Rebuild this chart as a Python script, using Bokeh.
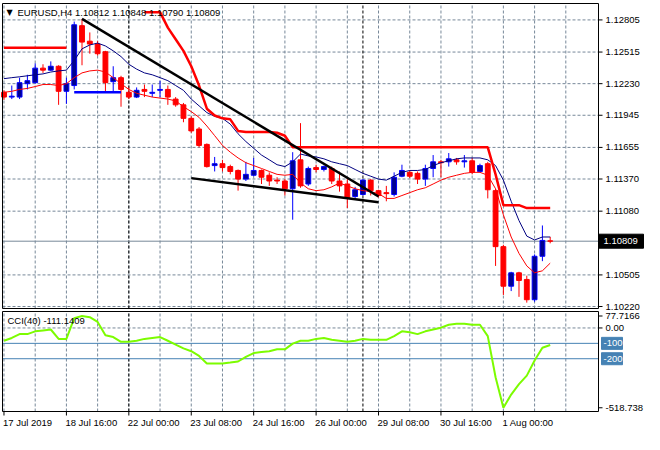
from bokeh.plotting import figure
from bokeh.models import Range1d
from bokeh.core.properties import value
from bokeh.embed import file_html
from bokeh.resources import INLINE

# ---------------- data ----------------
symbol = "EURUSD,H4"
bars = list(range(71))
opens = [1.12152, 1.12109, 1.12109, 1.12230, 1.12239, 1.12370, 1.12352, 1.12387, 1.12161, 1.12213,
         1.12753, 1.12613, 1.12587, 1.12518, 1.12248, 1.12284, 1.12152, 1.12109, 1.12178, 1.12143,
         1.12170, 1.12178, 1.12091, 1.12039, 1.11917, 1.11821, 1.11682, 1.11491, 1.11508, 1.11482,
         1.11447, 1.11369, 1.11404, 1.11447, 1.11404, 1.11360, 1.11352, 1.11282, 1.11543, 1.11325,
         1.11473, 1.11456, 1.11465, 1.11352, 1.11325, 1.11212, 1.11230, 1.11360, 1.11265, 1.11247,
         1.11230, 1.11395, 1.11430, 1.11421, 1.11369, 1.11465, 1.11525, 1.11525, 1.11543, 1.11525,
         1.11534, 1.11438, 1.11508, 1.11265, 1.10760, 1.10403, 1.10524, 1.10464, 1.10281, 1.10673,
         1.10812]
highs = [1.12170, 1.12213, 1.12284, 1.12310, 1.12413, 1.12405, 1.12431, 1.12396, 1.12284, 1.12790,
         1.12814, 1.12692, 1.12613, 1.12526, 1.12387, 1.12301, 1.12196, 1.12196, 1.12222, 1.12222,
         1.12257, 1.12213, 1.12109, 1.12056, 1.11935, 1.11839, 1.11691, 1.11569, 1.11543, 1.11499,
         1.11456, 1.11525, 1.11560, 1.11456, 1.11430, 1.11386, 1.11369, 1.11612, 1.11874, 1.11482,
         1.11499, 1.11491, 1.11482, 1.11438, 1.11369, 1.11299, 1.11369, 1.11369, 1.11273, 1.11308,
         1.11430, 1.11499, 1.11447, 1.11438, 1.11499, 1.11586, 1.11543, 1.11604, 1.11560, 1.11586,
         1.11560, 1.11508, 1.11525, 1.11282, 1.10777, 1.10533, 1.10533, 1.10498, 1.10690, 1.10951,
         1.10848]
lows = [1.12083, 1.12091, 1.12091, 1.12178, 1.12230, 1.12327, 1.12345, 1.12039, 1.12048, 1.12178,
        1.12396, 1.12500, 1.12483, 1.12152, 1.12152, 1.12022, 1.12091, 1.12100, 1.12109, 1.12109,
        1.12109, 1.12039, 1.12022, 1.11882, 1.11787, 1.11656, 1.11473, 1.11438, 1.11438, 1.11412,
        1.11265, 1.11352, 1.11395, 1.11325, 1.11308, 1.11325, 1.11221, 1.11003, 1.11291, 1.11308,
        1.11430, 1.11438, 1.11325, 1.11256, 1.11108, 1.11195, 1.11221, 1.11221, 1.11204, 1.11169,
        1.11212, 1.11386, 1.11378, 1.11325, 1.11308, 1.11386, 1.11386, 1.11482, 1.11499, 1.11473,
        1.11412, 1.11430, 1.11195, 1.10586, 1.10324, 1.10359, 1.10307, 1.10255, 1.10263, 1.10629,
        1.10790]
closes = [1.12109, 1.12117, 1.12239, 1.12257, 1.12370, 1.12352, 1.12387, 1.12161, 1.12230, 1.12761,
          1.12605, 1.12587, 1.12500, 1.12239, 1.12284, 1.12178, 1.12109, 1.12170, 1.12161, 1.12152,
          1.12178, 1.12109, 1.12039, 1.11917, 1.11804, 1.11673, 1.11482, 1.11508, 1.11473, 1.11438,
          1.11369, 1.11412, 1.11447, 1.11386, 1.11352, 1.11352, 1.11282, 1.11534, 1.11308, 1.11465,
          1.11456, 1.11482, 1.11352, 1.11308, 1.11195, 1.11273, 1.11360, 1.11265, 1.11221, 1.11238,
          1.11386, 1.11447, 1.11395, 1.11369, 1.11465, 1.11525, 1.11517, 1.11552, 1.11525, 1.11534,
          1.11430, 1.11491, 1.11273, 1.10760, 1.10403, 1.10524, 1.10455, 1.10281, 1.10673, 1.10816,
          1.10809]

ma_navy = [1.12275, 1.12284, 1.12292, 1.12301, 1.12310, 1.12318, 1.12335, 1.12345, 1.12352, 1.12439,
           1.12544, 1.12579, 1.12596, 1.12570, 1.12526, 1.12474, 1.12405, 1.12361, 1.12327, 1.12310,
           1.12284, 1.12257, 1.12213, 1.12170, 1.12091, 1.12030, 1.11969, 1.11935, 1.11917, 1.11865,
           1.11778, 1.11708, 1.11647, 1.11586, 1.11543, 1.11499, 1.11482, 1.11525, 1.11595, 1.11578,
           1.11569, 1.11552, 1.11525, 1.11508, 1.11491, 1.11456, 1.11421, 1.11395, 1.11369, 1.11360,
           1.11395, 1.11430, 1.11447, 1.11447, 1.11456, 1.11491, 1.11517, 1.11534, 1.11552, 1.11560,
           1.11560, 1.11560, 1.11543, 1.11491, 1.11360, 1.11169, 1.10995, 1.10855, 1.10820, 1.10847,
           1.10847]
ma_red = [1.12152, 1.12161, 1.12178, 1.12187, 1.12204, 1.12222, 1.12222, 1.12213, 1.12230, 1.12284,
          1.12327, 1.12345, 1.12352, 1.12335, 1.12284, 1.12230, 1.12178, 1.12143, 1.12126, 1.12109,
          1.12100, 1.12091, 1.12074, 1.12022, 1.11978, 1.11926, 1.11848, 1.11761, 1.11673, 1.11612,
          1.11560, 1.11517, 1.11491, 1.11465, 1.11438, 1.11412, 1.11404, 1.11412, 1.11334, 1.11282,
          1.11265, 1.11273, 1.11299, 1.11334, 1.11308, 1.11282, 1.11265, 1.11256, 1.11238, 1.11195,
          1.11195, 1.11221, 1.11247, 1.11273, 1.11291, 1.11325, 1.11360, 1.11386, 1.11404, 1.11421,
          1.11430, 1.11430, 1.11404, 1.11282, 1.11047, 1.10847, 1.10699, 1.10586, 1.10524, 1.10542,
          1.10611]

# upper channel (thick red) pieces
stepA_bars = [0, 1, 2, 3, 4, 5, 6, 7, 8]
stepA_vals = [1.12553] * 9
stepB_bars = list(range(18, 71))
stepB_vals = ([1.12875, 1.12875, 1.12875, 1.12735, 1.12631, 1.12526, 1.12387, 1.12213, 1.12004,
               1.11943, 1.11917, 1.11908, 1.11804, 1.11795, 1.11795, 1.11795, 1.11795, 1.11787,
               1.11760] + [1.11656] * 26 + [1.11412, 1.11134, 1.11134, 1.11134,
                                            1.11108, 1.11108, 1.11108, 1.11108])
# lower level (thick blue)
lowA_bars = [9, 10, 11, 12, 13, 14, 15]
lowA_vals = [1.12152] * 7

# trend lines (drawn objects)
trend_up_bars = [10, 48]
trend_up_vals = [1.12814, 1.11212]
trend_lo_bars = [24, 48]
trend_lo_vals = [1.11378, 1.11160]

cci = [-83, -65, -40, -40, -22, -16, -10, -71, -71, 64,
       77.7166, 70, 39, -47, -59, -90, -90, -83, -71, -65,
       -59, -83, -108, -133, -151, -182, -231, -231, -231, -225,
       -218, -188, -163, -157, -151, -139, -139, -102, -83, -83,
       -71, -65, -77, -83, -90, -83, -71, -77, -77, -77,
       -53, -22, -28, -40, -22, -10, 2, 21, 27, 27,
       21, 21, -53, -320, -518.738, -433, -365, -310, -212, -129,
       -111.1409]

price_ticks = [1.12805, 1.12515, 1.12230, 1.11945, 1.11655, 1.11370, 1.11080, 1.10505, 1.10220]
cci_ticks = [77.7166, 0, -518.738]
cci_tick_text = ["77.7166", "0.00", "-518.738"]
cci_levels = [-100, -200]
cci_level_text = ["-100", "-200"]
label_bars = [0, 8, 16, 24, 32, 40, 48, 56, 64]
time_labels = ["17 Jul 2019", "18 Jul 16:00", "22 Jul 00:00", "23 Jul 08:00", "24 Jul 16:00",
               "26 Jul 00:00", "29 Jul 08:00", "30 Jul 16:00", "1 Aug 00:00"]
week_sep_bars = [16, 46]
grid_bars = list(range(0, 76, 4))

# ---------------- layout constants (pixels) ----------------
FONT = value("Liberation Sans")
FS = value("9.5px")
GRID = "#778899"
W, H = 644, 434
X0, X1 = -0.19, 76.19          # visible bar span of both panels
Y0, Y1 = 1.10202, 1.12953      # price panel span
C0, C1 = -543.0, 107.0         # CCI panel span
LEFT, RIGHT = 2, 598           # panel borders (px)
M_TOP, M_BOT = 3, 308          # price panel borders (px)
C_TOP, C_BOT = 311, 411        # CCI panel borders (px)

ppb = (RIGHT - LEFT) / (X1 - X0)
pp = (Y1 - Y0) / (M_BOT - M_TOP)
cp = (C1 - C0) / (C_BOT - C_TOP)

p = figure(width=W, height=H,
           x_range=Range1d(X0 - LEFT / ppb, X0 + (W - LEFT) / ppb),
           y_range=Range1d(Y0 - (H - M_BOT) * pp, Y1 + M_TOP * pp),
           x_axis_location=None, y_axis_location=None, toolbar_location=None,
           output_backend="svg", min_border=0)
p.extra_y_ranges = {"cci": Range1d(C0 - (H - C_BOT) * cp, C1 + C_TOP * cp)}
p.outline_line_color = None
p.grid.visible = False
p.background_fill_color = "white"
p.border_fill_color = "white"

n_g = len(grid_bars)
# ---- grids ----
p.segment(x0=[X0] * len(price_ticks), x1=[X1] * len(price_ticks), y0=price_ticks, y1=price_ticks,
          line_color=GRID, line_dash="3 2", line_width=1)
p.segment(x0=grid_bars, x1=grid_bars, y0=[Y0] * n_g, y1=[Y1] * n_g,
          line_color=GRID, line_dash="3 2", line_width=1)
p.segment(x0=grid_bars, x1=grid_bars, y0=[C0] * n_g, y1=[C1] * n_g, y_range_name="cci",
          line_color=GRID, line_dash="3 2", line_width=1)
p.segment(x0=[X0], x1=[X1], y0=[0], y1=[0], y_range_name="cci",
          line_color=GRID, line_dash="3 2", line_width=1)
# week separators
nw = len(week_sep_bars)
p.segment(x0=week_sep_bars, x1=week_sep_bars, y0=[Y0] * nw, y1=[Y1] * nw,
          line_color="black", line_dash="3 2", line_width=1)
p.segment(x0=week_sep_bars, x1=week_sep_bars, y0=[C0] * nw, y1=[C1] * nw, y_range_name="cci",
          line_color="black", line_dash="3 2", line_width=1)
# current price line and CCI levels
p.segment(x0=[X0], x1=[X1], y0=[closes[-1]], y1=[closes[-1]], line_color=GRID, line_width=1)
p.segment(x0=[X0] * 2, x1=[X1] * 2, y0=cci_levels, y1=cci_levels, y_range_name="cci",
          line_color="#4682B4", line_width=1)

# ---- candles ----
up = [c >= o for o, c in zip(opens, closes)]
cdata = dict(
    x=bars, h=highs, l=lows,
    top=[max(o, c) for o, c in zip(opens, closes)],
    bot=[min(o, c) for o, c in zip(opens, closes)],
    line=["#0000FF" if u else "#FF0000" for u in up],
    fill=["#000090" if u else "#FF0000" for u in up],
)
p.segment(x0="x", y0="l", x1="x", y1="h", source=cdata, line_color="line", line_width=1)
p.vbar(x="x", width=0.62, top="top", bottom="bot", source=cdata,
       fill_color="fill", line_color="line", line_width=1)

# ---- indicators / objects ----
p.line(bars, ma_navy, line_color="#000080", line_width=1)
p.line(bars, ma_red, line_color="#FF0000", line_width=1)
p.line(stepA_bars, stepA_vals, line_color="#FF0000", line_width=2.5)
p.line(stepB_bars, stepB_vals, line_color="#FF0000", line_width=2.5)
p.line(lowA_bars, lowA_vals, line_color="#0000FF", line_width=2.5)
p.line(trend_up_bars, trend_up_vals, line_color="black", line_width=2.5)
p.line(trend_lo_bars, trend_lo_vals, line_color="black", line_width=2.5)

# CCI line
p.line(bars, cci, y_range_name="cci", line_color="#7CFC00", line_width=2)

# ---- panel borders ----
p.quad(left=[X0], right=[X1], bottom=[Y0], top=[Y1], fill_color=None, line_color="black", line_width=1)
p.quad(left=[X0], right=[X1], bottom=[C0], top=[C1], y_range_name="cci",
       fill_color=None, line_color="black", line_width=1)

# ---- price scale ----
tick_len = 4 / ppb
npt = len(price_ticks)
p.segment(x0=[X1] * npt, x1=[X1 + tick_len] * npt, y0=price_ticks, y1=price_ticks,
          line_color="black", line_width=1)
p.text(x=[X1] * npt, y=price_ticks, text=[f"{t:.5f}" for t in price_ticks], x_offset=7,
       text_font=FONT, text_font_size=FS, text_color="black",
       text_align="left", text_baseline="middle")
# current price box
p.quad(left=[X1], right=[X1 + 45 / ppb], bottom=[closes[-1] - 7 * pp], top=[closes[-1] + 7 * pp],
       fill_color="black", line_color="black")
p.text(x=[X1], y=[closes[-1]], text=[f"{closes[-1]:.5f}"], x_offset=5,
       text_font=FONT, text_font_size=FS, text_color="white",
       text_align="left", text_baseline="middle")

# ---- CCI scale ----
nct = len(cci_ticks)
p.segment(x0=[X1] * nct, x1=[X1 + tick_len] * nct, y0=cci_ticks, y1=cci_ticks, y_range_name="cci",
          line_color="black", line_width=1)
p.text(x=[X1] * nct, y=cci_ticks, text=cci_tick_text, x_offset=7, y_range_name="cci",
       text_font=FONT, text_font_size=FS, text_color="black",
       text_align="left", text_baseline="middle")
p.quad(left=[X1 + 3 / ppb] * 2, right=[X1 + 24 / ppb] * 2,
       bottom=[lv - 6 * cp for lv in cci_levels], top=[lv + 6 * cp for lv in cci_levels],
       y_range_name="cci", fill_color="#4682B4", line_color="#4682B4")
p.text(x=[X1] * 2, y=cci_levels, text=cci_level_text, x_offset=5, y_range_name="cci",
       text_font=FONT, text_font_size=FS, text_color="white",
       text_align="left", text_baseline="middle")

# ---- time scale ----
nl = len(label_bars)
p.segment(x0=label_bars, x1=label_bars, y0=[C0] * nl, y1=[C0 - 4 * cp] * nl, y_range_name="cci",
          line_color="black", line_width=1)
p.text(x=label_bars, y=[C0 - 5 * cp] * nl, text=time_labels, x_offset=-1, y_range_name="cci",
       text_font=FONT, text_font_size=FS, text_color="black",
       text_align="left", text_baseline="top")

# ---- captions ----
header = f"{symbol}  {opens[-1]:.5f} {highs[-1]:.5f} {lows[-1]:.5f} {closes[-1]:.5f}"
p.text(x=[X0], y=[Y1 - 9 * pp], text=["\u25bc"], x_offset=4, text_font=value("DejaVu Sans"),
       text_font_size=value("8px"), text_color="black", text_align="left", text_baseline="middle")
p.text(x=[X0], y=[Y1 - 9 * pp], text=[header], x_offset=15, text_font=FONT, text_font_size=FS,
       text_color="black", text_align="left", text_baseline="middle")
p.text(x=[X0], y=[C1 - 9 * cp], text=[f"CCI(40) {cci[-1]:.4f}"], x_offset=5, y_range_name="cci",
       text_font=FONT, text_font_size=FS, text_color="black", text_align="left",
       text_baseline="middle")

open("out.html", "w").write(file_html(p, INLINE))
